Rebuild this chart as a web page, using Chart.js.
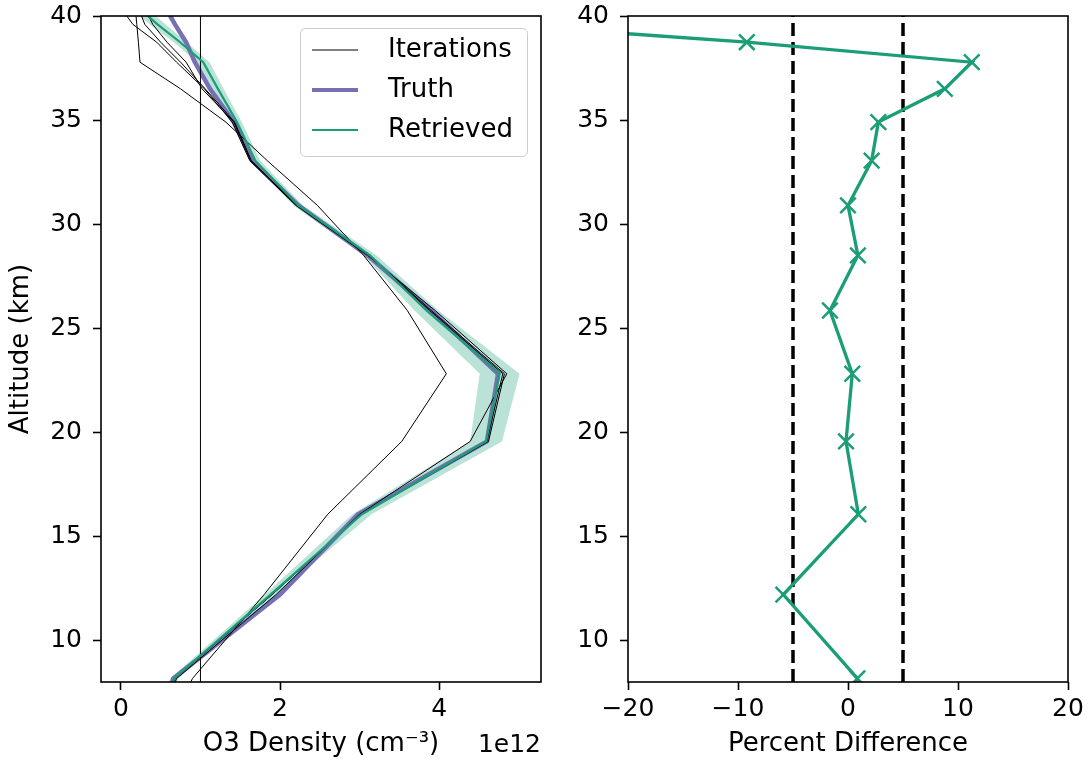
<!DOCTYPE html>
<html>
<head>
<meta charset="utf-8">
<script src="https://cdn.jsdelivr.net/npm/chart.js@4.4.0/dist/chart.umd.min.js"></script>
<style>
  body { margin: 0; background: #fff; }
  #wrap { position: relative; width: 1088px; height: 769px; }
  canvas { position: absolute; top: 0; }
</style>
</head>
<body>
<div id="wrap">
  <canvas id="density" width="560" height="769" style="left:0"></canvas>
  <canvas id="percent" width="528" height="769" style="left:560px"></canvas>
</div>
<script>
// altitude grid (km), bottom to top
const altitude = [4.3, 8.17, 12.2, 16.06, 19.56, 22.81, 25.85, 28.5, 30.9, 33.05, 34.9, 36.5, 37.78, 38.74, 39.6, 40.4];

// O3 density, units of 1e12 cm^-3
const truth = [0.3, 0.66, 2.0, 2.98, 4.6, 4.74, 3.9, 3.1, 2.23, 1.65, 1.42, 1.12, 0.93, 0.82, 0.68, 0.56];
const retrieved = [0.3, 0.67, 1.88, 3.03, 4.59, 4.76, 3.84, 3.13, 2.23, 1.69, 1.46, 1.22, 1.035, 0.745, 0.46, 0.22];
const retrievedErr = [0.04, 0.05, 0.07, 0.12, 0.2, 0.25, 0.15, 0.08, 0.06, 0.06, 0.06, 0.07, 0.08, 0.08, 0.1, 0.1];
const iterations = [
  [1.0, 1.0, 1.0, 1.0, 1.0, 1.0, 1.0, 1.0, 1.0, 1.0, 1.0, 1.0, 1.0, 1.0, 1.0, 1.0],
  [0.4, 0.9, 1.8, 2.6, 3.53, 4.09, 3.6, 3.05, 2.47, 1.84, 1.32, 0.75, 0.24, 0.22, 0.2, 0.18],
  [0.3, 0.7, 1.95, 3.0, 4.39, 4.85, 3.95, 3.1, 2.2, 1.62, 1.4, 1.05, 0.7, 0.45, 0.15, 0.0],
  [0.3, 0.68, 1.9, 3.02, 4.62, 4.82, 3.9, 3.12, 2.22, 1.63, 1.42, 1.02, 0.82, 0.58, 0.4, 0.3],
  [0.3, 0.67, 1.9, 3.02, 4.6, 4.8, 3.88, 3.11, 2.21, 1.64, 1.43, 1.06, 0.75, 0.5, 0.3, 0.22],
];

// percent difference retrieved vs truth
const percentDiff = [0.5, 0.85, -5.88, 0.94, -0.18, 0.39, -1.64, 0.9, 0.0, 2.15, 2.76, 8.8, 11.25, -9.2, -32, -60];
const limitLines = [-5, 5];

const altRange = [8, 40];
const altTicks = [10, 15, 20, 25, 30, 35, 40];
const densityRange = [-0.25, 5.28];
const densityTicks = [0, 2, 4];
const percentRange = [-20, 20];
const percentTicks = [-20, -10, 0, 10, 20];

const GREEN = '#1b9e77';
const PURPLE = '#7570b3';
const FONT = "'DejaVu Sans', sans-serif";

Chart.defaults.font.family = FONT;
Chart.defaults.font.size = 25;
Chart.defaults.color = '#000';
Chart.defaults.animation = false;
Chart.defaults.events = [];

const pts = (xs) => xs.map((v, i) => ({ x: v, y: altitude[i] }));
const minus = (v) => (v < 0 ? '\u2212' + Math.abs(v) : String(v));

// closed outline of the retrieval uncertainty band
const bandPts = altitude.map((a, i) => ({ x: retrieved[i] - retrievedErr[i], y: a }))
  .concat(altitude.map((a, i) => ({ x: retrieved[i] + retrievedErr[i], y: a })).reverse());

const frame = {
  id: 'frame',
  afterDraw(chart) {
    const { ctx, chartArea: a } = chart;
    ctx.save();
    ctx.strokeStyle = '#000';
    ctx.lineWidth = 1.6;
    ctx.strokeRect(a.left, a.top, a.width, a.height);
    ctx.restore();
  },
};

const legendBox = {
  id: 'legendBox',
  afterDraw(chart) {
    const ctx = chart.ctx;
    const items = [
      { label: 'Iterations', color: '#000', width: 1 },
      { label: 'Truth', color: PURPLE, width: 4 },
      { label: 'Retrieved', color: GREEN, width: 2 },
    ];
    ctx.save();
    ctx.beginPath();
    ctx.roundRect(300.5, 28.5, 227, 128, 5);
    ctx.fillStyle = 'rgba(255,255,255,0.8)';
    ctx.fill();
    ctx.strokeStyle = '#cccccc';
    ctx.lineWidth = 1;
    ctx.stroke();
    ctx.font = '26px ' + FONT;
    ctx.textBaseline = 'middle';
    items.forEach((it, i) => {
      const y = 50 + i * 40;
      ctx.beginPath();
      ctx.moveTo(312, y);
      ctx.lineTo(358, y);
      ctx.strokeStyle = it.color;
      ctx.lineWidth = it.width;
      ctx.stroke();
      ctx.fillStyle = '#000';
      ctx.fillText(it.label, 388, y);
    });
    // axis offset text
    ctx.font = '25px ' + FONT;
    ctx.textAlign = 'right';
    ctx.fillText('1e12', chart.chartArea.right, 745);
    ctx.restore();
  },
};

function axes(xRange, xTicks, xTitle, yWidth, yTitle) {
  const grid = { drawOnChartArea: false, tickLength: 8, tickWidth: 1.6, color: '#000' };
  return {
    x: {
      type: 'linear', min: xRange[0], max: xRange[1],
      afterBuildTicks: (s) => { s.ticks = xTicks.map((v) => ({ value: v })); },
      afterFit: (s) => { s.height = 87; s.paddingLeft = 0; s.paddingRight = 0; },
      grid, border: { display: false },
      ticks: { padding: 4, maxRotation: 0, callback: minus },
      title: { display: !!xTitle, text: xTitle, font: { size: 26 }, padding: { top: 0, bottom: 9 } },
    },
    y: {
      type: 'linear', min: altRange[0], max: altRange[1],
      afterBuildTicks: (s) => { s.ticks = altTicks.map((v) => ({ value: v })); },
      afterFit: (s) => { s.width = yWidth; s.paddingTop = 0; s.paddingBottom = 0; },
      grid, border: { display: false },
      ticks: { padding: 11 },
      title: { display: !!yTitle, text: yTitle, font: { size: 26 }, padding: { top: 6, bottom: 0 } },
    },
  };
}

const line = (data, color, width, order) => ({
  data, showLine: true, borderColor: color, borderWidth: width,
  pointRadius: 0, tension: 0, clip: 0, order,
});

new Chart(document.getElementById('density'), {
  type: 'scatter',
  data: {
    datasets: [
      line(pts(retrieved), GREEN, 2.2, 1),
      ...iterations.map((it) => line(pts(it), '#000', 1, 2)),
      line(pts(truth), PURPLE, 4.5, 3),
      Object.assign(line(bandPts, 'rgba(0,0,0,0)', 0, 4), {
        fill: 'shape', backgroundColor: 'rgba(27,158,119,0.3)',
      }),
    ],
  },
  options: {
    responsive: false,
    layout: { padding: { left: 0, top: 16, right: 19, bottom: 0 } },
    plugins: { legend: { display: false }, tooltip: { enabled: false } },
    scales: axes(densityRange, densityTicks, 'O3 Density (cm\u207B\u00B3)', 101, 'Altitude (km)'),
  },
  plugins: [frame, legendBox],
});

const limitSets = limitLines.map((v) => Object.assign(
  line([{ x: v, y: altRange[0] }, { x: v, y: altRange[1] }], '#000', 3.5, 2),
  { borderDash: [13, 6] }
));

new Chart(document.getElementById('percent'), {
  type: 'scatter',
  data: {
    datasets: [
      {
        data: pts(percentDiff), showLine: true, borderColor: GREEN, borderWidth: 3.3,
        pointStyle: 'crossRot', pointRadius: 11, pointBorderWidth: 2.5,
        pointBorderColor: GREEN, pointBackgroundColor: GREEN, clip: 0, order: 1,
      },
      ...limitSets,
    ],
  },
  options: {
    responsive: false,
    layout: { padding: { left: 0, top: 16, right: 20, bottom: 0 } },
    plugins: { legend: { display: false }, tooltip: { enabled: false } },
    scales: axes(percentRange, percentTicks, 'Percent Difference', 68, ''),
  },
  plugins: [frame],
});
</script>
</body>
</html>
